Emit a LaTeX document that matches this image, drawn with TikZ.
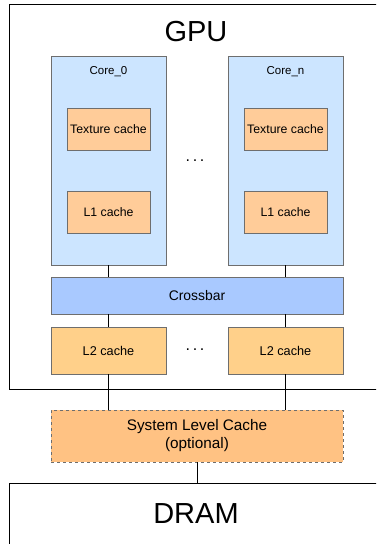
\documentclass[tikz,border=0pt]{standalone}
\usepackage{fontspec}
\setmainfont{Liberation Sans}
\usetikzlibrary{positioning}
\definecolor{coreblue}{HTML}{CCE5FF}
\definecolor{cacheorange}{HTML}{FFCC99}
\definecolor{xbarblue}{HTML}{A9C9FF}
\definecolor{ltwoyellow}{HTML}{FFD08A}
\definecolor{slcorange}{HTML}{FFC283}
\definecolor{edgegray}{HTML}{6E6E6E}

\begin{document}
\begin{tikzpicture}[
  x=1pt, y=-1pt,
  core/.style={draw=edgegray,fill=coreblue,minimum width=115pt,minimum height=209pt,inner sep=0pt},
  cache/.style={draw=edgegray,fill=cacheorange,minimum width=83pt,minimum height=42pt,inner sep=0pt,font=\fontsize{12.3}{14}\selectfont},
  ltwo/.style={draw=edgegray,fill=ltwoyellow,minimum width=115pt,minimum height=47pt,inner sep=0pt,font=\fontsize{12.7}{15}\selectfont},
  big/.style={font=\fontsize{29}{33}\selectfont},
  dots/.style={font=\fontsize{16}{18}\selectfont},
  wire/.style={black}
]
  \useasboundingbox (0,0) rectangle (376,544);
  \begin{scope}
  \clip (0,0) rectangle (376,544);
  \draw (9,4) rectangle (420,389);
  \draw (9,483) rectangle (420,600);
  \end{scope}
  \node[big] (gpu) at (196,32) {GPU};
  \node[big] (dram) at (196,514) {DRAM};

  \node[core] (c0) at (108.5,160.5) {};
  \node[core] (cn) at (285.5,160.5) {};
  \node[font=\fontsize{11.5}{13}\selectfont] (c0lbl) at (108.5,72) {Core\_0};
  \node[font=\fontsize{11.5}{13}\selectfont] (cnlbl) at (285.5,72) {Core\_n};
  \node[cache] (tex0) at (108.5,129) {Texture cache};
  \node[cache] (texn) at (285.5,129) {Texture cache};
  \node[cache] (l10) at (108.5,212) {L1 cache};
  \node[cache] (l1n) at (285.5,212) {L1 cache};
  \node[dots] (dots1) at (195,161) {.\,.\,.};

  \node[draw=edgegray,fill=xbarblue,minimum width=292pt,minimum height=37pt,inner sep=0pt,font=\fontsize{13.9}{16}\selectfont] (xbar) at (197,295.5) {Crossbar};

  \node[ltwo] (l20) at (108.5,350.5) {L2 cache};
  \node[ltwo] (l2n) at (285.5,350.5) {L2 cache};
  \node[dots] (dots2) at (195,350) {.\,.\,.};

  \node[draw=edgegray,dashed,fill=slcorange,minimum width=292pt,minimum height=52pt,inner sep=0pt,align=center,font=\fontsize{15.3}{18}\selectfont] (slc) at (197,436) {System Level Cache\\(optional)};

  \draw[wire] (c0.south) -- (xbar.north -| c0.south);
  \draw[wire] (cn.south) -- (xbar.north -| cn.south);
  \draw[wire] (xbar.south -| l20.north) -- (l20.north);
  \draw[wire] (xbar.south -| l2n.north) -- (l2n.north);
  \draw[wire] (l20.south) -- (slc.north -| l20.south);
  \draw[wire] (l2n.south) -- (slc.north -| l2n.south);
  \draw[wire] (slc.south) -- (197,483);
\end{tikzpicture}
\end{document}
